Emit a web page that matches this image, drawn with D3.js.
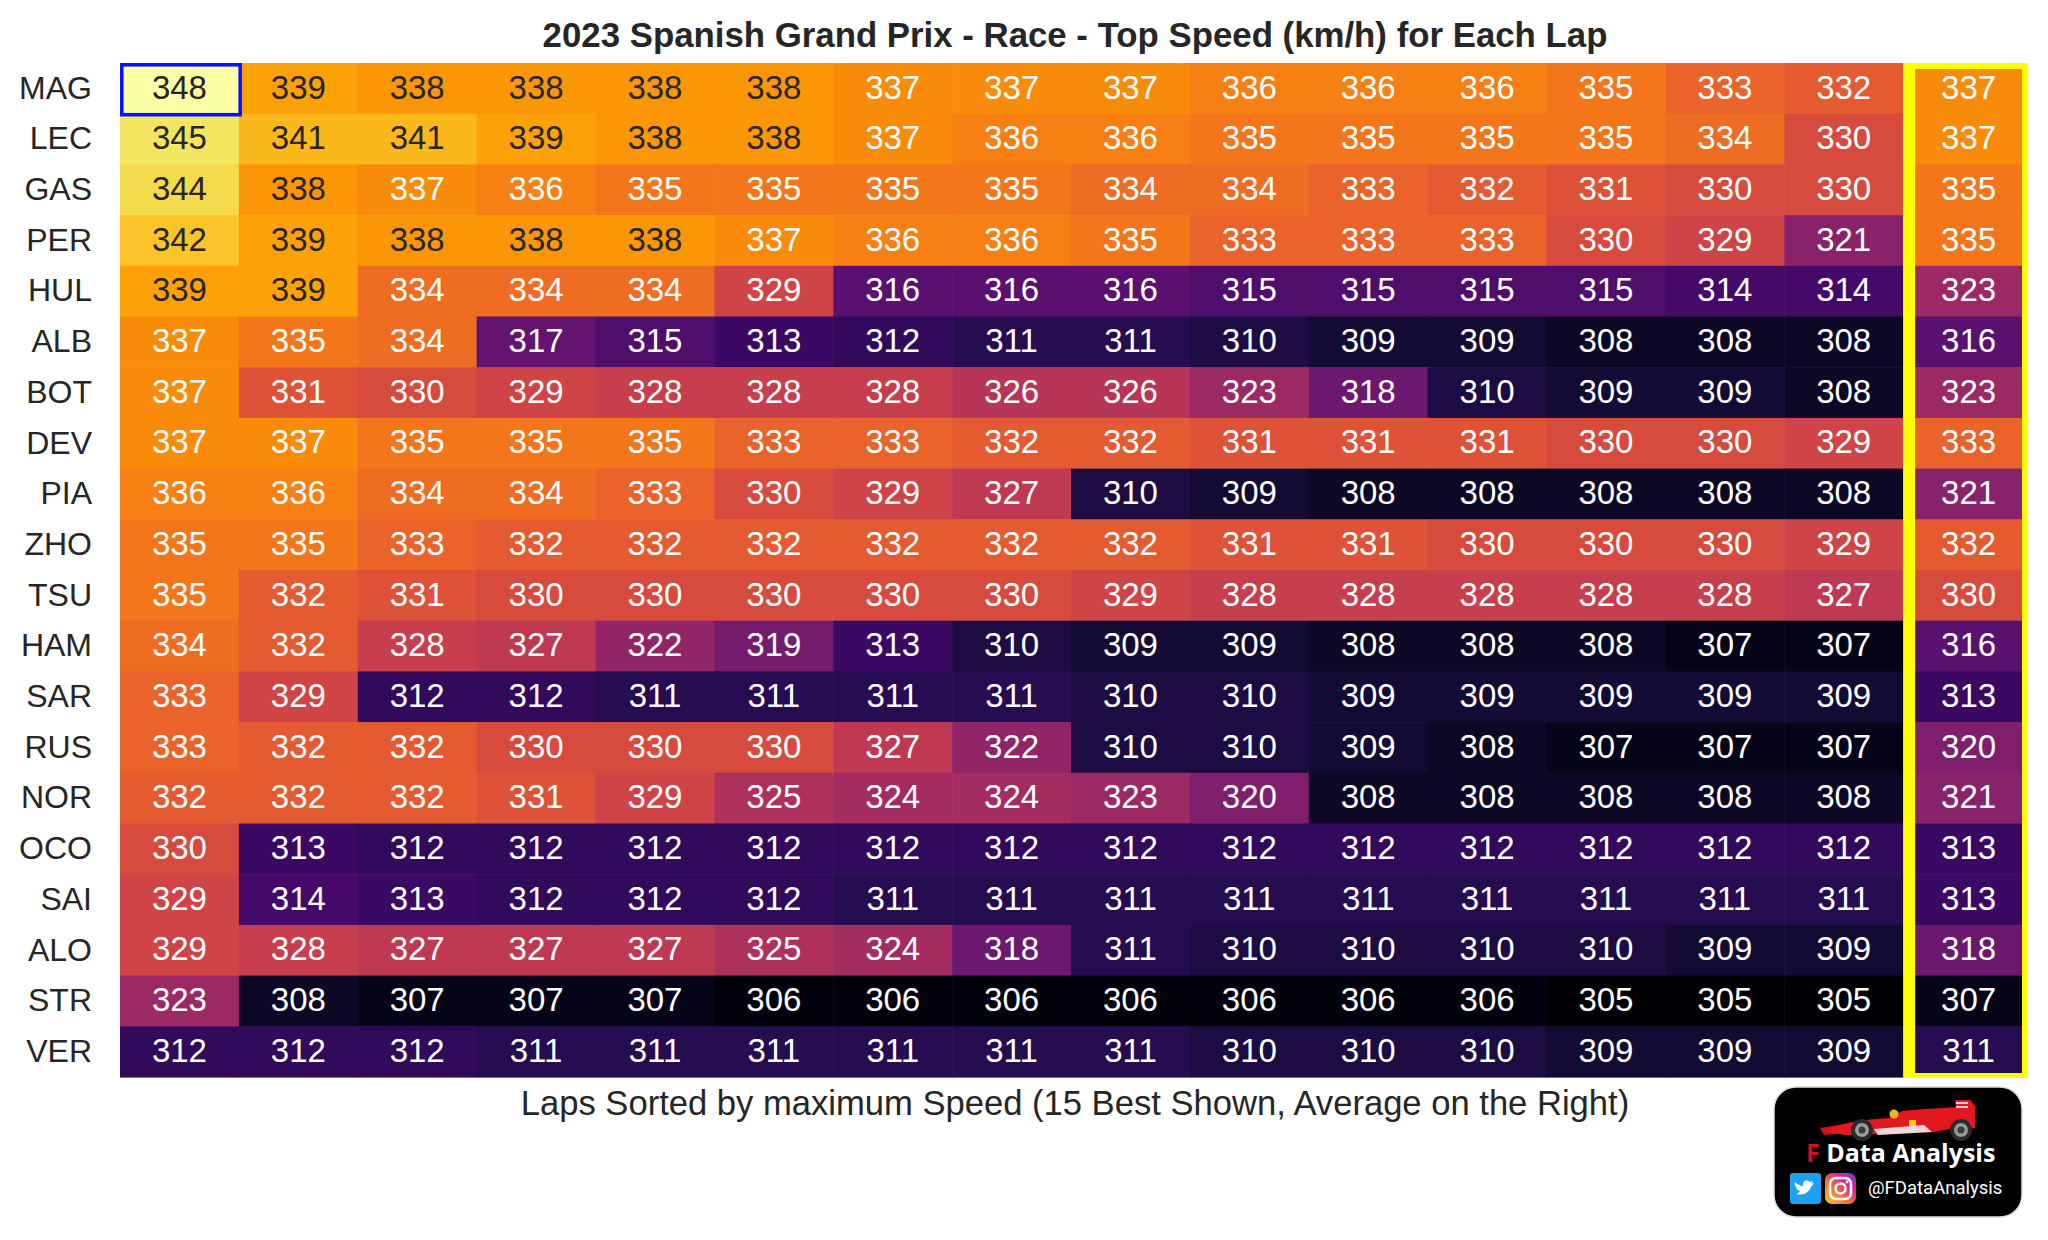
<!DOCTYPE html>
<html>
<head>
<meta charset="utf-8">
<script src="https://cdn.jsdelivr.net/npm/d3@7"></script>
<style>
  html, body { margin: 0; padding: 0; background: #ffffff; }
  svg { display: block; }
</style>
</head>
<body>
<svg id="chart" width="2048" height="1240"></svg>
<script>
// ---------------- DATA ----------------
const drivers = ["MAG","LEC","GAS","PER","HUL","ALB","BOT","DEV","PIA","ZHO","TSU","HAM","SAR","RUS","NOR","OCO","SAI","ALO","STR","VER"];

const lapColumns = ["1","2","3","4","5","6","7","8","9","10","11","12","13","14","15","Avg"];

const lapSpeeds = [
  [348,339,338,338,338,338,337,337,337,336,336,336,335,333,332],
  [345,341,341,339,338,338,337,336,336,335,335,335,335,334,330],
  [344,338,337,336,335,335,335,335,334,334,333,332,331,330,330],
  [342,339,338,338,338,337,336,336,335,333,333,333,330,329,321],
  [339,339,334,334,334,329,316,316,316,315,315,315,315,314,314],
  [337,335,334,317,315,313,312,311,311,310,309,309,308,308,308],
  [337,331,330,329,328,328,328,326,326,323,318,310,309,309,308],
  [337,337,335,335,335,333,333,332,332,331,331,331,330,330,329],
  [336,336,334,334,333,330,329,327,310,309,308,308,308,308,308],
  [335,335,333,332,332,332,332,332,332,331,331,330,330,330,329],
  [335,332,331,330,330,330,330,330,329,328,328,328,328,328,327],
  [334,332,328,327,322,319,313,310,309,309,308,308,308,307,307],
  [333,329,312,312,311,311,311,311,310,310,309,309,309,309,309],
  [333,332,332,330,330,330,327,322,310,310,309,308,307,307,307],
  [332,332,332,331,329,325,324,324,323,320,308,308,308,308,308],
  [330,313,312,312,312,312,312,312,312,312,312,312,312,312,312],
  [329,314,313,312,312,312,311,311,311,311,311,311,311,311,311],
  [329,328,327,327,327,325,324,318,311,310,310,310,310,309,309],
  [323,308,307,307,307,306,306,306,306,306,306,306,305,305,305],
  [312,312,312,311,311,311,311,311,311,310,310,310,309,309,309]
];

const avgSpeeds = [337,337,335,335,323,316,323,333,321,332,330,316,313,320,321,313,313,318,307,311];

const titleText = "2023 Spanish Grand Prix - Race - Top Speed (km/h) for Each Lap";
const xLabelText = "Laps Sorted by maximum Speed (15 Best Shown, Average on the Right)";

// ---------------- LAYOUT ----------------
const FONT = "'Liberation Sans', Arial, Helvetica, sans-serif";
const svg = d3.select("#chart");

const gridLeft = 120, gridRight = 2022, gridTop = 63, gridBottom = 1077;

const x = d3.scaleBand().domain(lapColumns).range([gridLeft, gridRight]).padding(0);
const y = d3.scaleBand().domain(drivers).range([gridTop, gridBottom]).padding(0);

const allVals = lapSpeeds.flat().concat(avgSpeeds);
const color = d3.scaleSequential(d3.interpolateInferno)
  .domain([d3.min(allVals), d3.max(allVals)]);

function relLum(c) {
  const rgb = d3.rgb(c);
  const f = v => { v /= 255; return v <= 0.03928 ? v / 12.92 : Math.pow((v + 0.055) / 1.055, 2.4); };
  return 0.2126 * f(rgb.r) + 0.7152 * f(rgb.g) + 0.0722 * f(rgb.b);
}
const lumThreshold = relLum(color(337.5));
const textColor = v => relLum(color(v)) > lumThreshold ? "#262626" : "#ffffff";

// cells table
const cells = [];
drivers.forEach((d, i) => {
  lapSpeeds[i].forEach((v, j) => cells.push({ driver: d, col: lapColumns[j], value: v }));
  cells.push({ driver: d, col: "Avg", value: avgSpeeds[i] });
});

const g = svg.append("g");

g.selectAll("rect.cell")
  .data(cells)
  .join("rect")
  .attr("class", "cell")
  .attr("x", d => x(d.col))
  .attr("y", d => y(d.driver))
  .attr("width", x.bandwidth() + 0.6)
  .attr("height", y.bandwidth() + 0.6)
  .attr("fill", d => color(d.value));

g.selectAll("text.val")
  .data(cells)
  .join("text")
  .attr("class", "val")
  .attr("x", d => x(d.col) + x.bandwidth() / 2 + (d.col === "Avg" ? 6 : 0))
  .attr("y", d => y(d.driver) + y.bandwidth() / 2)
  .attr("dy", "0.31em")
  .attr("text-anchor", "middle")
  .attr("font-family", FONT)
  .attr("font-size", 33)
  .attr("fill", d => textColor(d.value))
  .text(d => d.value);

// y axis (driver labels)
const yAxis = d3.axisLeft(y).tickSize(0).tickPadding(28);
const yg = svg.append("g").attr("transform", `translate(${gridLeft},0)`).call(yAxis);
yg.select(".domain").remove();
yg.selectAll("text")
  .attr("font-family", FONT)
  .attr("font-size", 32)
  .attr("fill", "#262626")
  .attr("dy", "0.32em");

// yellow frame around the average column
const ax0 = x("Avg"), ax1 = x("Avg") + x.bandwidth();
const outer = { x0: ax0, x1: ax1 + 5, y0: gridTop, y1: gridBottom + 1 };
const inner = { x0: ax0 + 12, x1: ax1, y0: gridTop + 6, y1: gridBottom - 4 };
svg.append("path")
  .attr("fill", "#ffff00")
  .attr("fill-rule", "evenodd")
  .attr("d",
    `M${outer.x0},${outer.y0}H${outer.x1}V${outer.y1}H${outer.x0}Z ` +
    `M${inner.x0},${inner.y0}H${inner.x1}V${inner.y1}H${inner.x0}Z`);

// blue frame around the top value
const bx = x(lapColumns[0]), by = y(drivers[0]);
svg.append("rect")
  .attr("x", bx + 1.8)
  .attr("y", by + 1.8)
  .attr("width", x.bandwidth() - 0.5)
  .attr("height", y.bandwidth() - 0.8)
  .attr("fill", "none")
  .attr("stroke", "#0a14ff")
  .attr("stroke-width", 3.6);

// title
svg.append("text")
  .attr("x", (gridLeft + gridRight) / 2 + 4)
  .attr("y", 47)
  .attr("text-anchor", "middle")
  .attr("font-family", FONT)
  .attr("font-weight", "bold")
  .attr("font-size", 34.8)
  .attr("fill", "#262626")
  .text(titleText);

// x label
svg.append("text")
  .attr("x", (gridLeft + gridRight) / 2 + 4)
  .attr("y", 1115)
  .attr("text-anchor", "middle")
  .attr("font-family", FONT)
  .attr("font-size", 34.6)
  .attr("fill", "#262626")
  .text(xLabelText);

// ---------------- LOGO ----------------
const logo = svg.append("g").attr("transform", "translate(1774,1087)");
logo.append("rect")
  .attr("x", 0).attr("y", 0).attr("width", 248).attr("height", 130)
  .attr("rx", 22).attr("ry", 22)
  .attr("fill", "#000000")
  .attr("stroke", "#dddddd").attr("stroke-width", 1.5);

// simplified F1 car
const car = logo.append("g");
car.append("path") // front wing
  .attr("d", "M46,41 L70,37 L72,46 L50,48 Z").attr("fill", "#c8141b");
car.append("path") // body
  .attr("d", "M50,44 C68,35 95,32 115,31 L128,24 L150,22 L170,21 L183,20 L186,40 L160,45 L110,47 L70,48 Z")
  .attr("fill", "#e3171e");
car.append("path") // side pod highlight
  .attr("d", "M100,42 L150,38 L158,45 L104,48 Z").attr("fill", "#f3d6da");
car.append("path") // rear wing
  .attr("d", "M181,13 L196,13 L201,19 L201,41 L185,43 Z").attr("fill", "#e3171e");
car.append("rect").attr("x", 182).attr("y", 15).attr("width", 12).attr("height", 2).attr("fill", "#ffd0d0");
car.append("rect").attr("x", 182).attr("y", 19).attr("width", 12).attr("height", 2).attr("fill", "#ffd0d0");
car.append("circle").attr("cx", 120).attr("cy", 27).attr("r", 4.5).attr("fill", "#f2b416");
car.append("rect").attr("x", 135).attr("y", 33).attr("width", 7).attr("height", 6).attr("fill", "#ffd400");
[[88, 43], [187, 43]].forEach(([cx, cy]) => {
  car.append("circle").attr("cx", cx).attr("cy", cy).attr("r", 11).attr("fill", "#2a2a2a");
  car.append("circle").attr("cx", cx).attr("cy", cy).attr("r", 7).attr("fill", "#9a9a9a");
  car.append("circle").attr("cx", cx).attr("cy", cy).attr("r", 3.5).attr("fill", "#3a3a3a");
});

// brand text
const brand = logo.append("text")
  .attr("x", 32).attr("y", 75)
  .attr("font-family", "'Open Sans', 'Noto Sans', sans-serif")
  .attr("font-weight", "bold")
  .attr("font-size", 25);
brand.append("tspan").attr("fill", "#d4101c").text("F ");
brand.append("tspan").attr("fill", "#ffffff").text("Data Analysis");

// social icons
logo.append("rect").attr("x", 16).attr("y", 86).attr("width", 31).attr("height", 31).attr("rx", 3).attr("fill", "#1da1f2");
logo.append("path")
  .attr("d", "M22,107 C28,109 35,106 37,100 L40,96 L37,96.5 L39,94 L36,95 C33,92 28,94 29,99 C26,99 23,97 21,95 C20,98 22,101 24,101 L22,101 C23,103 25,104 26,104 C25,106 23,107 22,107 Z")
  .attr("fill", "#ffffff");

const defs = svg.append("defs");
const ig = defs.append("linearGradient").attr("id", "igGrad")
  .attr("x1", "0%").attr("y1", "100%").attr("x2", "100%").attr("y2", "0%");
ig.append("stop").attr("offset", "0%").attr("stop-color", "#fdc830");
ig.append("stop").attr("offset", "40%").attr("stop-color", "#f3703a");
ig.append("stop").attr("offset", "70%").attr("stop-color", "#d6249f");
ig.append("stop").attr("offset", "100%").attr("stop-color", "#6a3cc8");
logo.append("rect").attr("x", 51).attr("y", 86).attr("width", 31).attr("height", 31).attr("rx", 7).attr("fill", "url(#igGrad)");
logo.append("rect").attr("x", 56).attr("y", 91).attr("width", 21).attr("height", 21).attr("rx", 6)
  .attr("fill", "none").attr("stroke", "#ffffff").attr("stroke-width", 2.5);
logo.append("circle").attr("cx", 66.5).attr("cy", 101.5).attr("r", 5).attr("fill", "none").attr("stroke", "#ffffff").attr("stroke-width", 2.5);
logo.append("circle").attr("cx", 73).attr("cy", 95).attr("r", 1.4).attr("fill", "#ffffff");

logo.append("text")
  .attr("x", 94).attr("y", 107)
  .attr("font-family", "Roboto, 'Noto Sans', sans-serif")
  .attr("font-size", 18.5)
  .attr("fill", "#ffffff")
  .text("@FDataAnalysis");
</script>
</body>
</html>
